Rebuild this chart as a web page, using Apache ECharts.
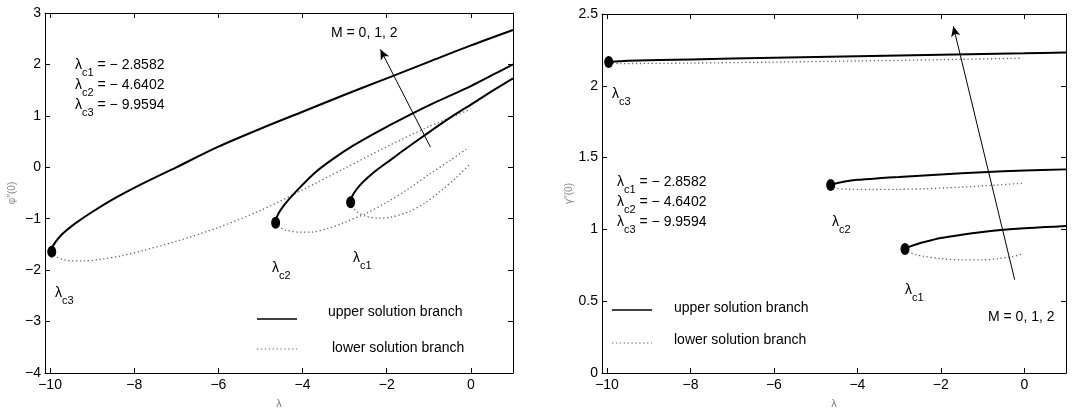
<!DOCTYPE html>
<html>
<head>
<meta charset="utf-8">
<title>upper / lower solution branch</title>
<script src="https://cdn.jsdelivr.net/npm/echarts@6/dist/echarts.min.js"></script>
<style>
  html, body { margin: 0; padding: 0; background: #fff; }
  #chart { width: 1079px; height: 414px; }
</style>
</head>
<body>
<div id="chart"></div>
<script>
// tick values on the λ axis (both panels)
const lambdaTicks = [-10, -8, -6, -4, -2, 0];

// left panel, φ''(0) : upper (solid) and lower (dotted) branches, M = 0, 1, 2
const phiUpperC1 = [[-2.8582, -0.68], [-2.83, -0.58], [-2.77, -0.49], [-2.65, -0.36], [-2.45, -0.2], [-2.2, -0.03], [-1.9, 0.15], [-1.5, 0.39], [-1, 0.68], [-0.5, 0.96], [0, 1.22], [0.5, 1.48], [1, 1.73]];
const phiLowerC1 = [[-2.8582, -0.68], [-2.8, -0.78], [-2.7, -0.87], [-2.5, -0.95], [-2.2, -0.99], [-1.9, -0.97], [-1.5, -0.87], [-1.1, -0.7], [-0.7, -0.45], [-0.35, -0.2], [-0.05, 0.04]];
const phiUpperC2 = [[-4.6402, -1.08], [-4.61, -0.97], [-4.56, -0.88], [-4.46, -0.76], [-4.3, -0.6], [-4.06, -0.39], [-3.7, -0.1], [-3.3, 0.15], [-2.8, 0.42], [-2.2, 0.7], [-1.5, 1.0], [-0.8, 1.28], [0, 1.58], [0.5, 1.79], [1, 2.0]];
const phiLowerC2 = [[-4.6402, -1.08], [-4.55, -1.16], [-4.4, -1.22], [-4.1, -1.26], [-3.8, -1.26], [-3.4, -1.19], [-3, -1.07], [-2.5, -0.9], [-2, -0.68], [-1.5, -0.43], [-1, -0.14], [-0.5, 0.13], [-0.05, 0.39]];
const phiUpperC3 = [[-9.9594, -1.64], [-9.93, -1.53], [-9.86, -1.44], [-9.75, -1.33], [-9.6, -1.22], [-9.4, -1.09], [-9, -0.87], [-8.5, -0.62], [-8, -0.4], [-7, 0.0], [-6, 0.4], [-5, 0.75], [-4, 1.08], [-3, 1.41], [-2, 1.73], [-1, 2.05], [0, 2.37], [1, 2.67]];
const phiLowerC3 = [[-9.9594, -1.64], [-9.85, -1.74], [-9.7, -1.79], [-9.5, -1.82], [-9.2, -1.82], [-8.8, -1.79], [-8.3, -1.72], [-7.8, -1.62], [-7, -1.44], [-6, -1.17], [-5, -0.84], [-4, -0.44], [-3, -0.02], [-2, 0.4], [-1, 0.79], [0, 1.13]];
const phiCritical = [[-9.9594, -1.64], [-4.6402, -1.08], [-2.8582, -0.68]];

// right panel, γ''(0)
const gamUpperC1 = [[-2.8582, 0.864], [-2.75, 0.88], [-2.6, 0.895], [-2.4, 0.912], [-2, 0.94], [-1.5, 0.963], [-1, 0.982], [-0.5, 0.997], [0, 1.008], [0.5, 1.016], [1, 1.023]];
const gamLowerC1 = [[-2.8582, 0.864], [-2.75, 0.84], [-2.6, 0.825], [-2.4, 0.812], [-2, 0.797], [-1.5, 0.788], [-1, 0.788], [-0.6, 0.797], [-0.3, 0.81], [-0.02, 0.83]];
const gamUpperC2 = [[-4.6402, 1.31], [-4.5, 1.322], [-4.3, 1.334], [-4.0, 1.345], [-3.5, 1.356], [-3, 1.365], [-2, 1.383], [-1, 1.398], [0, 1.41], [1, 1.418]];
const gamLowerC2 = [[-4.6402, 1.31], [-4.5, 1.286], [-4.2, 1.28], [-3.6, 1.278], [-3, 1.279], [-2.4, 1.283], [-1.6, 1.293], [-0.8, 1.306], [-0.06, 1.321]];
const gamUpperC3 = [[-9.9594, 2.166], [-9.5, 2.174], [-8, 2.184], [-6, 2.196], [-4, 2.206], [-2, 2.216], [0, 2.226], [1, 2.232]];
const gamLowerC3 = [[-9.9594, 2.16], [-9.7, 2.155], [-8, 2.158], [-6, 2.165], [-4, 2.173], [-2, 2.182], [-0.1, 2.192]];
const gamCritical = [[-9.9594, 2.166], [-4.6402, 1.31], [-2.8582, 0.864]];

// "M = 0, 1, 2" arrows, tail -> head in data units
const phiArrow = [[-0.96, 0.39], [-2.15, 2.29]];
const gamArrow = [[-0.23, 0.65], [-1.7, 2.414]];

const FONT = 'Liberation Sans, Arial, sans-serif';
const minus = v => (v < 0 ? '\u2212' + Math.abs(v) : String(v));

function xAxes(grid) {
    return [
        {
            type: 'value', gridIndex: grid, min: -10.12, max: 1,
            name: 'λ', nameLocation: 'middle', nameGap: 25,
            nameTextStyle: { color: '#777', fontSize: 11, fontFamily: FONT },
            axisLine: { onZero: false, lineStyle: { color: '#000' } },
            axisTick: { inside: true, length: 5, customValues: lambdaTicks, lineStyle: { color: '#000' } },
            axisLabel: { customValues: lambdaTicks, formatter: minus, color: '#000', fontSize: 14, fontFamily: FONT, margin: 5 },
            splitLine: { show: false }
        },
        {
            type: 'value', gridIndex: grid, min: -10.12, max: 1, position: 'top',
            axisLine: { onZero: false, lineStyle: { color: '#000' } },
            axisTick: { inside: true, length: 5, customValues: lambdaTicks, lineStyle: { color: '#000' } },
            axisLabel: { show: false },
            splitLine: { show: false }
        }
    ];
}

function yAxes(grid, min, max, step, name) {
    return [
        {
            type: 'value', gridIndex: grid, min: min, max: max, interval: step,
            name: name, nameLocation: 'middle', nameRotate: 90, nameGap: 28,
            nameTextStyle: { color: '#888', fontSize: 10, fontFamily: FONT },
            axisLine: { onZero: false, lineStyle: { color: '#000' } },
            axisTick: { inside: true, length: 5, lineStyle: { color: '#000' } },
            axisLabel: { formatter: minus, color: '#000', fontSize: 14, fontFamily: FONT, margin: 4 },
            splitLine: { show: false }
        },
        {
            type: 'value', gridIndex: grid, min: min, max: max, interval: step, position: 'right',
            axisLine: { onZero: false, lineStyle: { color: '#000' } },
            axisTick: { inside: true, length: 5, lineStyle: { color: '#000' } },
            axisLabel: { show: false },
            splitLine: { show: false }
        }
    ];
}

function branch(data, xi, yi, upper) {
    return {
        type: 'line', xAxisIndex: xi, yAxisIndex: yi, data: data,
        name: upper ? 'upper solution branch' : 'lower solution branch',
        showSymbol: false, smooth: 0.3, silent: true,
        lineStyle: upper ? { color: '#000', width: 2 } : { color: '#666', width: 1.3, type: [1.3, 2.6] },
        z: upper ? 3 : 2
    };
}

function criticals(data, xi, yi, arrow) {
    return {
        type: 'scatter', xAxisIndex: xi, yAxisIndex: yi, data: data,
        symbol: 'circle', symbolSize: [9, 12], itemStyle: { color: '#000', opacity: 1 }, silent: true, z: 5,
        markLine: {
            silent: true, symbol: ['none', 'arrow'], symbolSize: [7, 10],
            label: { show: false },
            lineStyle: { color: '#000', width: 1, type: 'solid' },
            data: [[{ coord: arrow[0] }, { coord: arrow[1] }]]
        }
    };
}

// text annotations
const rich = {
    l: { fontSize: 14, fontFamily: FONT, fill: '#000' },
    s: { fontSize: 11, fontFamily: FONT, padding: [16, 0, 0, 0] },
    m: { fontSize: 14, fontFamily: FONT }
};
function lam(sub, rest, x, y) {
    return {
        type: 'text', x: x, y: y,
        style: { text: '{l|λ}{s|' + sub + '}' + (rest ? '{m|' + rest + '}' : ''), rich: rich, fill: '#000', verticalAlign: 'middle', font: '14px ' + FONT }
    };
}
function label(text, x, y) {
    return { type: 'text', x: x, y: y, style: { text: text, fill: '#000', font: '14px ' + FONT, verticalAlign: 'middle' } };
}
function legendLine(x, y, dotted) {
    return {
        type: 'line', shape: { x1: x, y1: y, x2: x + 40, y2: y },
        style: dotted ? { stroke: '#666', lineWidth: 1.2, lineDash: [1.3, 2.6] } : { stroke: '#000', lineWidth: 1.4 }
    };
}

const graphics = [
    lam('c1', ' = \u2212 2.8582', 75, 65),
    lam('c2', ' = \u2212 4.6402', 75, 85),
    lam('c3', ' = \u2212 9.9594', 75, 105),
    lam('c3', '', 55, 293),
    lam('c2', '', 272, 268),
    lam('c1', '', 353, 258),
    label('M = 0, 1, 2', 331, 33),
    legendLine(257, 319, false),
    label('upper solution branch', 328, 312),
    legendLine(257, 349, true),
    label('lower solution branch', 332, 348),

    lam('c1', ' = \u2212 2.8582', 617, 182),
    lam('c2', ' = \u2212 4.6402', 617, 202),
    lam('c3', ' = \u2212 9.9594', 617, 222),
    lam('c3', '', 612, 94),
    lam('c2', '', 832, 222),
    lam('c1', '', 905, 290),
    label('M = 0, 1, 2', 988, 317),
    legendLine(612, 310, false),
    label('upper solution branch', 674, 308),
    legendLine(612, 343, true),
    label('lower solution branch', 674, 340)
];

const chart = echarts.init(document.getElementById('chart'));
chart.setOption({
    animation: false,
    backgroundColor: '#fff',
    textStyle: { fontFamily: FONT },
    grid: [
        { left: 45, right: 566, top: 13, bottom: 33 },
        { left: 602, right: 13, top: 14, bottom: 32 }
    ],
    xAxis: xAxes(0).concat(xAxes(1)),
    yAxis: yAxes(0, -4, 3, 1, 'φ\u2032\u2032(0)').concat(yAxes(1, 0, 2.5, 0.5, 'γ\u2032\u2032(0)')),
    series: [
        branch(phiLowerC3, 0, 0, false),
        branch(phiLowerC2, 0, 0, false),
        branch(phiLowerC1, 0, 0, false),
        branch(phiUpperC3, 0, 0, true),
        branch(phiUpperC2, 0, 0, true),
        branch(phiUpperC1, 0, 0, true),
        criticals(phiCritical, 0, 0, phiArrow),

        branch(gamLowerC3, 2, 2, false),
        branch(gamLowerC2, 2, 2, false),
        branch(gamLowerC1, 2, 2, false),
        branch(gamUpperC3, 2, 2, true),
        branch(gamUpperC2, 2, 2, true),
        branch(gamUpperC1, 2, 2, true),
        criticals(gamCritical, 2, 2, gamArrow)
    ],
    graphic: graphics
});
</script>
</body>
</html>
